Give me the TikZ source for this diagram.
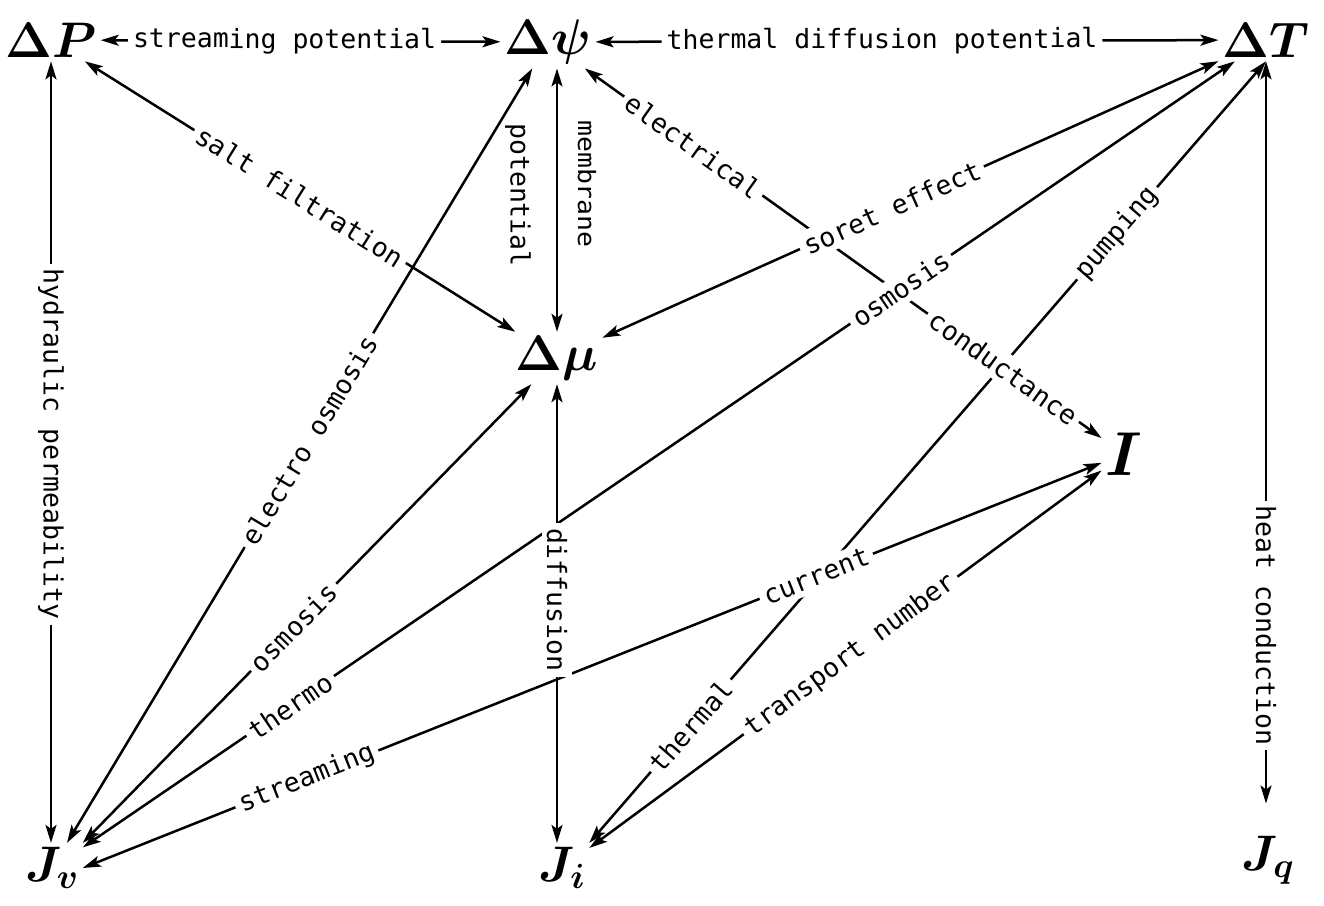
\RequirePackage{fix-cm}
\documentclass[tikz,border=0pt]{standalone}
\usepackage{fontspec}
\setmonofont{DejaVu Sans Mono}
\usetikzlibrary{arrows.meta}
\begin{document}
\begin{tikzpicture}[x=1pt,y=-1pt,
  conn/.style={line width=2.5pt,{Stealth[length=18pt,width=11pt,inset=4pt]}-{Stealth[length=18pt,width=11pt,inset=4pt]}},
  lbl/.style={font=\fontsize{26.5}{26.5}\selectfont\ttfamily,fill=white,inner sep=5pt,sloped},
  vlbl/.style={font=\fontsize{26.5}{26.5}\selectfont\ttfamily,fill=white,inner sep=5pt,rotate=-90},
  sym/.style={font=\fontsize{50}{50}\selectfont\boldmath,inner sep=4pt}]
\useasboundingbox (0,0) rectangle (1324,905);
% nodes
\node[sym] (dP) at (51,40) {$\Delta P$};
\node[sym] (dpsi) at (548,42) {$\Delta\psi$};
\node[sym] (dT) at (1266,40) {$\Delta T$};
\node[sym] (dmu) at (557,358) {$\Delta\mu$};
\node[sym,font=\fontsize{62}{62}\selectfont\boldmath] (I) at (1124,454) {$I$};
\node[sym] (Jv) at (52,868) {$J_v$};
\node[sym] (Ji) at (562,868) {$J_i$};
\node[sym] (Jq) at (1268,860) {$J_q$};
\coordinate (JqTop) at ([yshift=28pt]Jq.north);
% connectors
\draw[conn] (dP) -- (dpsi);
\draw[conn] (dpsi) -- (dT);
\draw[conn] (dP.south) -- (dP.south |- Jv.north);
\draw[conn] (dT.south) -- (dT.south |- JqTop);
\draw[conn] (dmu.north |- dpsi.south) -- (dmu.north);
\draw[conn] (dmu.south) -- (dmu.south |- Ji.north);
\draw[conn] (dP) -- (dmu);
\draw[conn] (dpsi) -- (I);
\draw[conn] (dT) -- (dmu);
\draw[conn] (dT) -- (Jv);
\draw[conn] (dT.south) -- (Ji.north east);
\draw[conn] (dpsi) -- (Jv);
\draw[conn] (dmu) -- (Jv.north east);
\draw[conn] (I) -- (Jv.east);
\draw[conn] (I) -- (Ji);
% labels
\path (dP) -- (dpsi) node[lbl,pos=0.46] (l1) {streaming potential};
\path (dpsi) -- (dT) node[lbl,pos=0.46] (l2) {thermal diffusion potential};
\path (dP.south) -- (dP.south |- Jv.north) node[vlbl,pos=0.49] (l3) {hydraulic permeability};
\path (dT.south) -- (dT.south |- JqTop) node[vlbl,pos=0.76] (l4) {heat conduction};
\node[vlbl,fill=none] (l5a) at (587,184) {\scalebox{1}[0.9]{membrane}};
\node[vlbl,fill=none] (l5b) at (518,195) {potential};
\path (dmu.south) -- (dmu.south |- Ji.north) node[vlbl,pos=0.47] (l6) {diffusion};
\path (dP) -- (dmu) node[lbl,pos=0.5] (l7) {salt filtration};
\path (dpsi) -- (I) node[lbl,pos=0.21] (l8a) {electrical} node[lbl,pos=0.81] (l8b) {conductance};
\path (dT) -- (dmu) node[lbl,pos=0.53] (l9) {soret effect};
\path (dT) -- (Jv) node[lbl,pos=0.29] (l10a) {osmosis} node[lbl,pos=0.82] (l10b) {thermo};
\path (dT.south) -- (Ji.north east) node[lbl,pos=0.22] (l11a) {pumping} node[lbl,pos=0.85] (l11b) {thermal};
\path (dpsi) -- (Jv) node[lbl,pos=0.48] (l12) {electro osmosis};
\path (dmu) -- (Jv.north east) node[lbl,pos=0.53] (l13) {osmosis};
\path (I) -- (Jv.east) node[lbl,pos=0.28] (l14a) {current} node[lbl,pos=0.78] (l14b) {streaming};
\path (I) -- (Ji) node[lbl,pos=0.49] (l15) {transport number};
\end{tikzpicture}
\end{document}
